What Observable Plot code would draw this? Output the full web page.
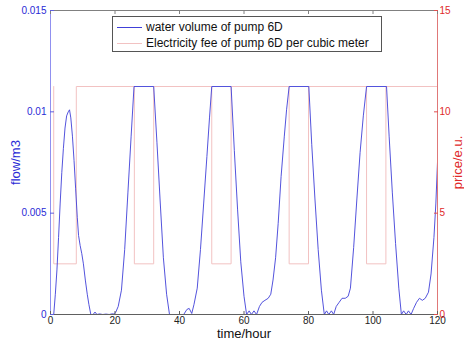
<!DOCTYPE html>
<html><head><meta charset="utf-8">
<script src="https://cdn.jsdelivr.net/npm/d3@7"></script>
<script src="https://cdn.jsdelivr.net/npm/@observablehq/plot@0.6"></script>
<style>
body{margin:0;background:#fff;font-family:"Liberation Sans",Arial,sans-serif}
#wrap{position:relative;width:464px;height:345px}
#legend{position:absolute;left:112px;top:16px;width:268px;height:34px;border:1px solid #555;background:#fff;font-size:12px;color:#111}
.row{position:absolute;left:0;height:16px;line-height:16px;white-space:nowrap}
.sw{position:absolute;left:4px;top:8px;width:25px;height:0;border-top:1px solid}
.lab{position:absolute;left:33px;top:0}
</style></head><body><div id="wrap"></div>
<script>
const seriesNames = ["water volume of pump 6D", "Electricity fee of pump 6D per cubic meter"];
const xLabel = "time/hour";
const yLabel = "flow/m3";
const y2Label = "price/e.u.";
const xTicks = [0, 20, 40, 60, 80, 100, 120];
const flowTicks = [0, 0.005, 0.01, 0.015];
const priceTicks = [0, 5, 10, 15];

const flowTime = [0.7,1.0,1.5,2.0,2.5,3.0,3.5,4.0,4.5,5.0,5.5,5.9,6.3,6.8,7.3,7.8,8.3,8.7,9.2,9.7,10.2,10.8,11.4,11.9,12.5,13.2,13.8,14.4,15.2,16.2,17.2,18.2,19.0,19.6,20.2,
  21,22,23,24,25,25.9,32,33,34,35,36,36.9,41.3,42.3,43,43.8,44.5,45.5,46.5,47.5,48.5,49.3,50,56,57,58,59,60,60.8,61.6,62.3,63.1,63.9,64.8,65.6,66.5,67.5,68.3,69,69.8,70.6,71.5,72.5,73.2,74,
  80.1,81,82,83,84,84.9,85.6,86.3,87.1,87.8,88.6,89.5,90.4,91.4,92.3,93,94,95,96,97,98,104.2,105,106,107,108,108.8,109.5,110.3,111,111.8,112.6,113.5,114.4,115.3,116.2,117.2,118,118.9,119.5,120];
const flowValue = [0,0,0.001,0.0022,0.0038,0.0055,0.007,0.0082,0.0092,0.0098,0.0100,0.0101,0.0097,0.0088,0.0076,0.0062,0.0048,0.0039,0.0034,0.003,0.0025,0.0017,0.001,0.0005,0,0,0.00012,0,0.00003,0,0.00002,0,0.00003,0.00003,0.0001,
  0.0004,0.0012,0.0032,0.006,0.0088,0.01125,0.01125,0.0085,0.0056,0.0028,0.001,0,0,0.00025,0.0003,0.00005,0.0005,0.0013,0.0032,0.0055,0.0078,0.0097,0.01125,0.01125,0.0081,0.0052,0.0026,0.0009,0,0.00018,0,0.00018,0,0.0004,0.0006,0.0007,0.0008,0.001,0.0017,0.0028,0.0045,0.0068,0.0088,0.0101,0.01125,
  0.01125,0.0084,0.0057,0.0032,0.0012,0,0.00018,0,0.00018,0,0.0004,0.0006,0.0008,0.0008,0.0009,0.0013,0.0033,0.0057,0.008,0.0098,0.01125,0.01125,0.0088,0.006,0.0035,0.0013,0,0.00018,0,0.00018,0,0.0003,0.0006,0.0008,0.0007,0.0008,0.0011,0.002,0.0038,0.0055,0.0075];

const priceTime = [1,1,8,8,26,26,32,32,50,50,56,56,74,74,80,80,98,98,104,104,120];
const priceValue = [11.25,2.5,2.5,11.25,11.25,2.5,2.5,11.25,11.25,2.5,2.5,11.25,11.25,2.5,2.5,11.25,11.25,2.5,2.5,11.25,11.25];

const flowColor = "#4040d8", priceColor = "#f2c2c2";
const k = 0.015 / 15; // price -> flow axis scaling
const flow = flowTime.map((t, i) => ({t, v: flowValue[i]}));
const price = priceTime.map((t, i) => ({t, p: priceValue[i]}));

const chart = Plot.plot({
  width: 464, height: 345,
  marginLeft: 50, marginRight: 27, marginTop: 10, marginBottom: 31,
  style: {fontFamily: '"Liberation Sans", Arial, sans-serif', fontSize: "10px", background: "#fff", overflow: "visible"},
  x: {domain: [0, 120], label: null},
  y: {domain: [0, 0.015], label: null},
  marks: [
    Plot.line(price, {x: "t", y: d => d.p * k, stroke: priceColor, strokeWidth: 1}),
    Plot.line(flow, {x: "t", y: "v", stroke: flowColor, strokeWidth: 0.9}),
    Plot.ruleY([0.015], {stroke: "#808080"}),
    Plot.ruleY([0], {stroke: "#606060"}),
    Plot.ruleX([0], {stroke: "#9090f0"}),
    Plot.ruleX([120], {stroke: "#e07878"}),
    Plot.axisX(xTicks, {anchor: "bottom", tickSize: -3, tickPadding: 5, stroke: "#606060", fill: "#222", label: null, tickFormat: d => String(d)}),
    Plot.axisX(xTicks, {anchor: "top", tickSize: -3, stroke: "#808080", text: null, label: null}),
    Plot.axisY(flowTicks, {anchor: "left", tickSize: -4, tickPadding: 8, stroke: "#6060e0", fill: "#2a2ad6", label: null, tickFormat: d => String(+d.toFixed(4))}),
    Plot.axisY(priceTicks.map(p => p * k), {anchor: "right", tickSize: -4, tickPadding: 6, stroke: "#e05050", fill: "#e02a2a", label: null, tickFormat: d => String(+(d / k).toFixed(3))}),
    Plot.text([xLabel], {text: d => d, frameAnchor: "bottom", dy: 23, fontSize: 13, fill: "#111"}),
    Plot.text([yLabel], {text: d => d, frameAnchor: "left", textAnchor: "middle", dx: -35, rotate: -90, fontSize: 13, fill: "#2a2ad6"}),
    Plot.text([y2Label], {text: d => d, frameAnchor: "right", textAnchor: "middle", dx: 20, rotate: -90, fontSize: 13, fill: "#e02a2a"})
  ]
});
const wrap = document.getElementById("wrap");
wrap.appendChild(chart);
const legend = document.createElement("div");
legend.id = "legend";
[flowColor, priceColor].forEach((c, i) => {
  const row = document.createElement("div");
  row.className = "row";
  row.style.top = (2 + i * 16) + "px";
  const sw = document.createElement("div");
  sw.className = "sw"; sw.style.borderTopColor = c;
  const lab = document.createElement("div");
  lab.className = "lab"; lab.textContent = seriesNames[i];
  row.appendChild(sw); row.appendChild(lab);
  legend.appendChild(row);
});
wrap.appendChild(legend);
</script></body></html>
